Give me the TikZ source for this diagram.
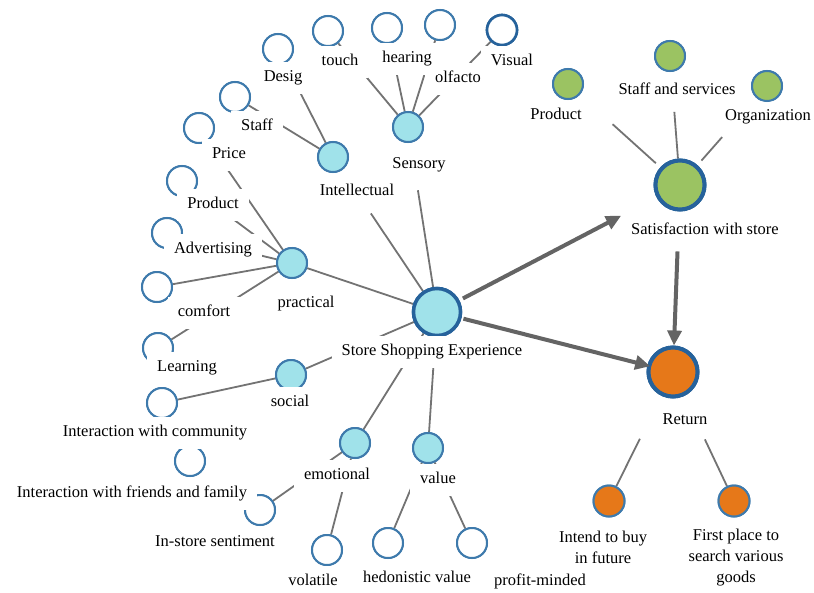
\documentclass[tikz,border=0pt]{standalone}
\usepackage{fontspec}
\setmainfont{Liberation Serif}
\usetikzlibrary{arrows.meta}
\definecolor{edgec}{RGB}{115,115,115}
\definecolor{arrc}{RGB}{100,100,100}
\definecolor{rimc}{RGB}{62,122,172}
\definecolor{rimdark}{RGB}{38,98,155}
\definecolor{cyanf}{RGB}{160,226,234}
\definecolor{greenf}{RGB}{155,195,98}
\definecolor{orangef}{RGB}{230,120,25}
\begin{document}
\begin{tikzpicture}[x=1pt,y=-1pt,
  hollow/.style={circle,draw=rimc,fill=white,line width=2pt,minimum size=30pt,inner sep=0pt},
  sub/.style={circle,draw=rimc,fill=cyanf,line width=2pt,minimum size=30pt,inner sep=0pt},
  hub/.style={circle,draw=rimdark,fill=cyanf,line width=3.5pt,minimum size=47pt,inner sep=0pt},
  gsmall/.style={circle,draw=rimc,fill=greenf,line width=2pt,minimum size=30pt,inner sep=0pt},
  gbig/.style={circle,draw=rimdark,fill=greenf,line width=4pt,minimum size=49pt,inner sep=0pt},
  osmall/.style={circle,draw=rimc,fill=orangef,line width=2pt,minimum size=31pt,inner sep=0pt},
  obig/.style={circle,draw=rimdark,fill=orangef,line width=4pt,minimum size=49pt,inner sep=0pt},
  lbl/.style={fill=white,inner xsep=10pt,inner ysep=8pt,text height=11.5pt,text depth=4pt,font=\fontsize{16.5}{21}\selectfont},
  mlbl/.style={fill=white,inner xsep=8pt,inner ysep=4pt,align=center,font=\fontsize{16.5}{21}\selectfont},
  edge/.style={draw=edgec,line width=1.8pt},
  arr/.style={draw=arrc,line width=4pt,-{Triangle[length=15pt,width=14pt]}},
]
\useasboundingbox (0,0) rectangle (814,592);

% ---- circles (geometry) ----
\node[hub] (C) at (437,312) {};
\node[sub] (sen) at (408,127) {};
\node[sub] (int) at (333,157) {};
\node[sub] (pra) at (292,263) {};
\node[sub] (soc) at (291,375) {};
\node[sub] (emo) at (355,443) {};
\node[sub] (val) at (428,448) {};

\node[hollow] (hDes) at (278,49) {};
\node[hollow] (hTou) at (328,31) {};
\node[hollow] (hHea) at (387,28) {};
\node[hollow] (hOlf) at (440,25) {};
\node[hollow,draw=rimdark,line width=2.6pt] (hVis) at (502,30) {};
\node[hollow] (hSta) at (235,97) {};
\node[hollow] (hPri) at (199,128) {};
\node[hollow] (hPro) at (182,181) {};
\node[hollow] (hAdv) at (167,233) {};
\node[hollow] (hCom) at (157,287) {};
\node[hollow] (hLea) at (158,348) {};
\node[hollow] (hCmy) at (162,403) {};
\node[hollow] (hFri) at (190,461) {};
\node[hollow] (hIns) at (260,510) {};
\node[hollow] (hVol) at (327,550) {};
\node[hollow] (hHed) at (388,543) {};
\node[hollow] (hPrf) at (472,543) {};

\node[gbig] (sat) at (680,185) {};
\node[gsmall] (gPro) at (568,84) {};
\node[gsmall] (gSta) at (670,56) {};
\node[gsmall] (gOrg) at (767,86) {};

\node[obig] (ret) at (673,372) {};
\node[osmall] (oInt) at (609,501) {};
\node[osmall] (oFir) at (734,501) {};

% ---- connectors ----
\foreach \a/\b in {C/pra,C/soc,C/emo,C/val,
  int/hDes,int/hSta,
  sen/hTou,sen/hHea,sen/hOlf,sen/hVis,
  pra/hPri,pra/hPro,pra/hAdv,pra/hCom,pra/hLea,
  soc/hCmy,emo/hVol,emo/hIns,val/hHed,val/hPrf}
  \draw[edge] (\a) -- (\b);
\draw[edge,shorten >=48pt] (C) -- (sen);
\draw[edge,shorten >=52pt] (C) -- (int);
\draw[edge,shorten <=48pt] (ret) -- (oInt);
\draw[edge,shorten <=48pt] (ret) -- (oFir);
\draw[edge,shorten <=44pt,shorten >=6pt] (gPro) -- (sat);
\draw[edge,shorten <=40pt] (gSta) -- (sat);
\draw[edge,shorten <=52pt,shorten >=6pt] (gOrg) -- (sat);

% redraw circles over connectors
\node[hub] at (C) {};
\foreach \n in {sen,int,pra,soc,emo,val} \node[sub] at (\n) {};
\foreach \n in {hDes,hTou,hHea,hOlf,hSta,hPri,hPro,hAdv,hCom,hLea,hCmy,hFri,hIns,hVol,hHed,hPrf} \node[hollow] at (\n) {};
\node[hollow,draw=rimdark,line width=2.6pt] at (hVis) {};
\node[obig] at (ret) {};
\node[osmall] at (oInt) {};
\node[osmall] at (oFir) {};

% ---- labels ----
\node[lbl] (lDes) at (283,78) {Desig};
\node[lbl] (lTou) at (340,62) {touch};
\node[lbl] (lOlf) at (458,79) {olfacto};
\node[lbl,inner xsep=6pt] (lHea) at (407,59) {hearing};
\node[lbl] (lVis) at (512,62) {Visual};
\node[lbl] (lSta) at (257,127) {Staff};
\node[lbl] (lPri) at (229,155) {Price};
\node[lbl] (lPro) at (213,205) {Product};
\node[lbl] (lAdv) at (213,250) {Advertising};
\node[lbl] (lCom) at (204,313) {comfort};
\node[lbl] (lLea) at (187,368) {Learning};
\node[lbl] (lCmy) at (155,433) {Interaction with community};
\node[lbl] (lFri) at (132,494) {Interaction with friends and family};
\node[lbl] (lIns) at (215,543) {In-store sentiment};
\node[lbl] (lVol) at (313,582) {volatile};
\node[lbl] (lHed) at (417,579) {hedonistic value};
\node[lbl] (lPrf) at (540,582) {profit-minded};
\node[lbl] (lInt) at (357,192) {Intellectual};
\node[lbl] (lSen) at (419,165) {Sensory};
\node[lbl] (lPra) at (306,304) {practical};
\node[lbl] (lSoc) at (290,403) {social};
\node[lbl] (lEmo) at (337,476) {emotional};
\node[lbl] (lVal) at (438,480) {value};
\node[lbl] (lC) at (432,352) {Store Shopping Experience};
\node[lbl] (lSat) at (705,231) {Satisfaction with store};
\node[lbl] (lRet) at (685,421) {Return};
\node[lbl] (lgPro) at (556,116) {Product};
\node[lbl] (lgSta) at (677,91) {Staff and services};
\node[lbl] (lgOrg) at (768,117) {Organization};
\node[mlbl] (lInt2) at (603,547) {Intend to buy\\in future};
\node[mlbl] (lFir) at (736,558) {First place to\\search various\\goods};

% ---- satisfaction cluster circles over labels ----
\node[gbig] at (sat) {};
\node[gsmall] at (gPro) {};
\node[gsmall] at (gSta) {};
\node[gsmall] at (gOrg) {};

% ---- arrows ----
\draw[arr,shorten <=4pt,shorten >=40pt] (C) -- (sat);
\draw[arr,shorten <=2pt,shorten >=-3pt] (C) -- (ret);
\draw[arr,shorten <=40pt] (sat) -- (ret);
\end{tikzpicture}
\end{document}
